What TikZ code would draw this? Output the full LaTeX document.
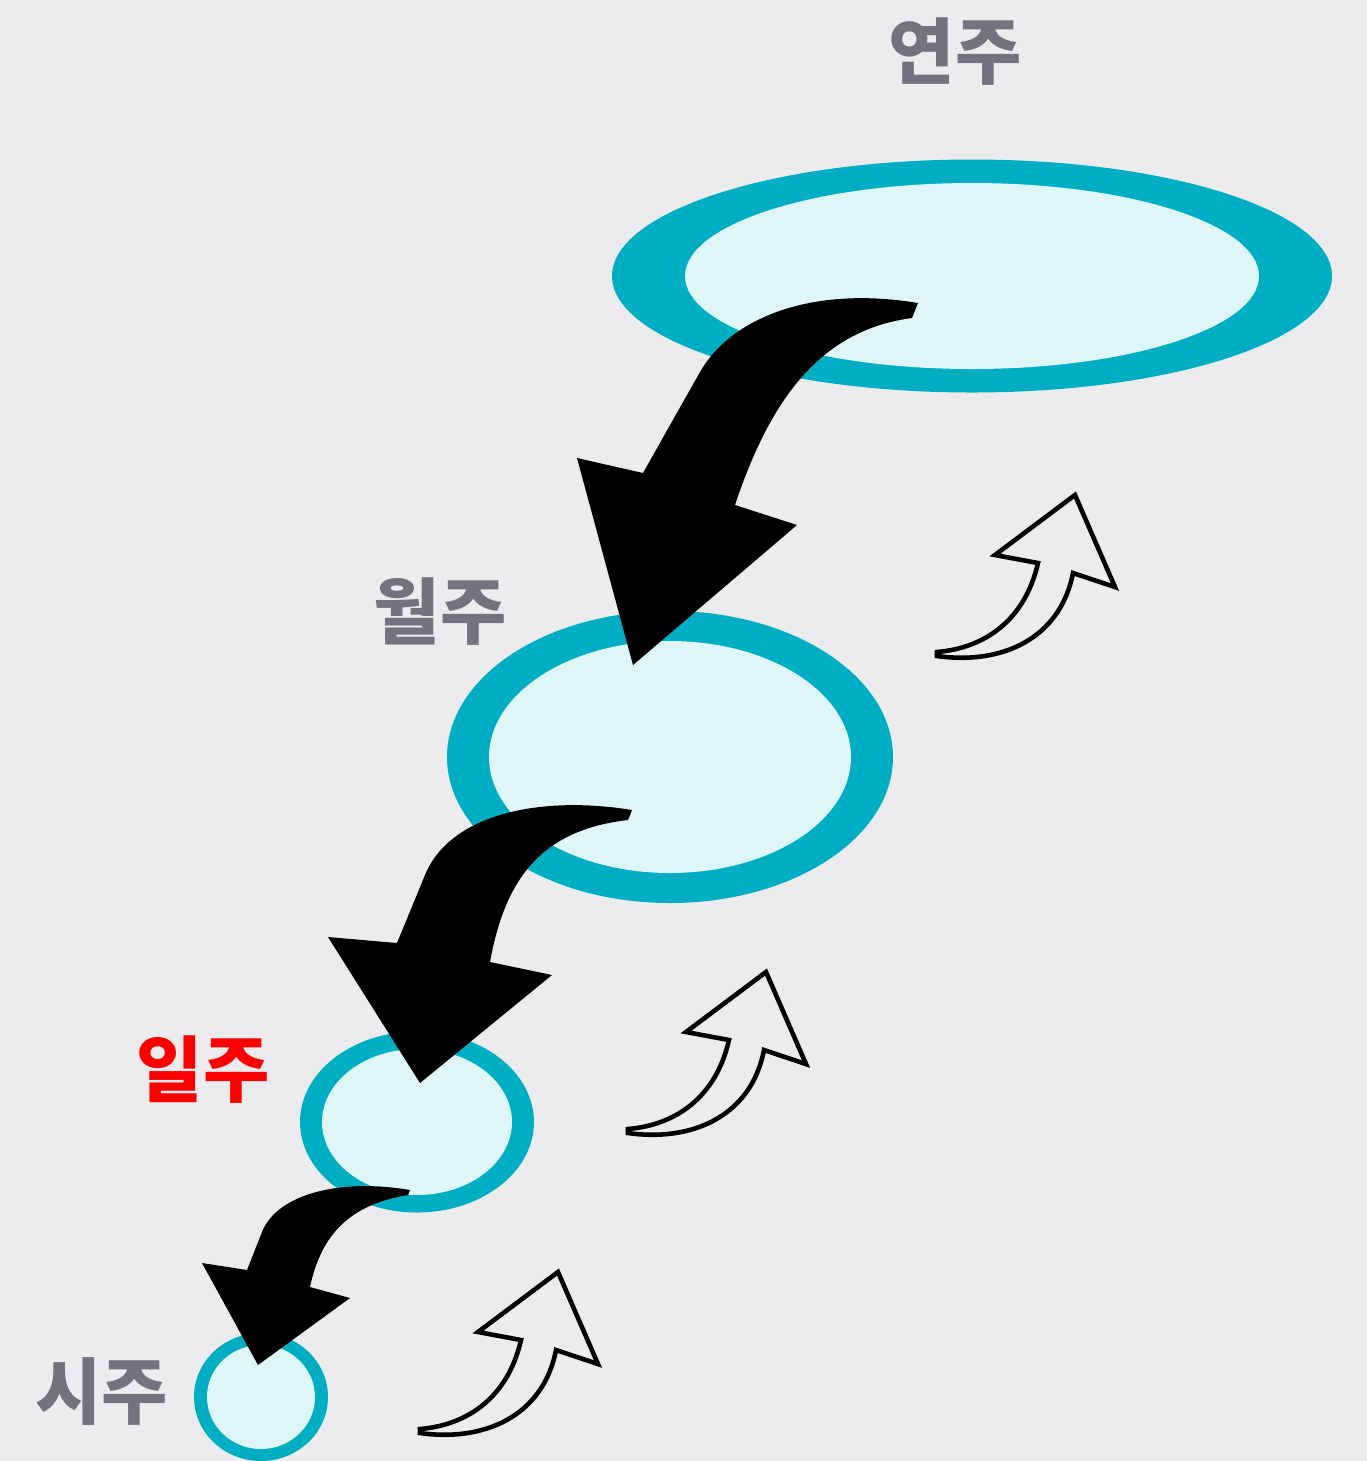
\documentclass[tikz,border=0pt]{standalone}
\usepackage{fontspec}
\newfontfamily\krfont{Noto Sans CJK KR}
\usepackage{tikz}
\usetikzlibrary{shapes.geometric}

\definecolor{paper}{HTML}{ECECEE}
\definecolor{rimcol}{HTML}{00AEC3}
\definecolor{corecol}{HTML}{DFF6F8}
\definecolor{tagcol}{HTML}{73727F}

\begin{document}
\begin{tikzpicture}[x=0.1mm, y=-0.1mm,
        rim/.style={ellipse, fill=rimcol, inner sep=0pt, outer sep=0pt},
        core/.style={ellipse, fill=corecol, inner sep=0pt, outer sep=0pt},
        tag/.style={font=\krfont\bfseries\fontsize{20.5pt}{24pt}\selectfont,
                    text=tagcol, inner sep=0pt},
        bigarrow/.style={fill=black},
        thinarrow/.style={draw=black, line width=1.3pt, line join=miter}]

        \fill[paper] (0,0) rectangle (1367,1461);

        \node[rim, minimum width=72mm, minimum height=23.3mm] (yeon) at (972,276) {};
        \node[core, minimum width=57.4mm, minimum height=18.6mm] (yeon') at (yeon) {};

        \node[rim, minimum width=44.6mm, minimum height=29.2mm] (wol) at (670,757) {};
        \node[core, minimum width=36.2mm, minimum height=23.2mm] (wol') at (wol) {};

        \node[rim, minimum width=23.4mm, minimum height=18.1mm] (il) at (417,1122) {};
        \node[core, minimum width=19mm, minimum height=14.6mm] (il') at (il) {};

        \node[rim, minimum width=13.4mm, minimum height=12.8mm] (si) at (261,1397) {};
        \node[core, minimum width=10.8mm, minimum height=10.4mm] (si') at (si) {};

        \node[tag] (a) at (955,52) {연주};
        \node[tag] (b) at (440,612) {월주};
        \node[tag, text=red] (c) at (203,1070) {일주};
        \node[tag] (d) at (102,1392) {시주};

        % black arrows, down the pillars
        \fill[bigarrow] (918,303) .. controls (810,285) and (730,319) .. (700,372)
              -- (643,473) -- (577,458) -- (633,665) -- (797,525) -- (735,505)
              .. controls (770,400) and (820,330) .. (912,318) -- cycle;
        \fill[bigarrow] (632,810) .. controls (540,795) and (450,814) .. (425,875)
              -- (397,943) -- (328,937) -- (420,1083) -- (552,975) -- (490,962)
              .. controls (505,880) and (540,830) .. (628,820) -- cycle;
        \fill[bigarrow] (410,1190) .. controls (340,1178) and (277,1194) .. (262,1232)
              -- (247,1270) -- (202,1263) -- (258,1365) -- (350,1298) -- (310,1287)
              .. controls (320,1240) and (345,1205) .. (408,1195) -- cycle;

        % hollow arrows, back up
        \foreach \dx/\dy in {0/0, -309/477, -517/777} {
          \draw[thinarrow, shift={(\dx,\dy)}] (937,656)
              .. controls (1000,665) and (1060,640) .. (1073,573)
              -- (1115,587) -- (1075,495) -- (995,555) -- (1038,563)
              .. controls (1025,620) and (985,648) .. (937,652) -- cycle;
        }

\end{tikzpicture}
\end{document}
